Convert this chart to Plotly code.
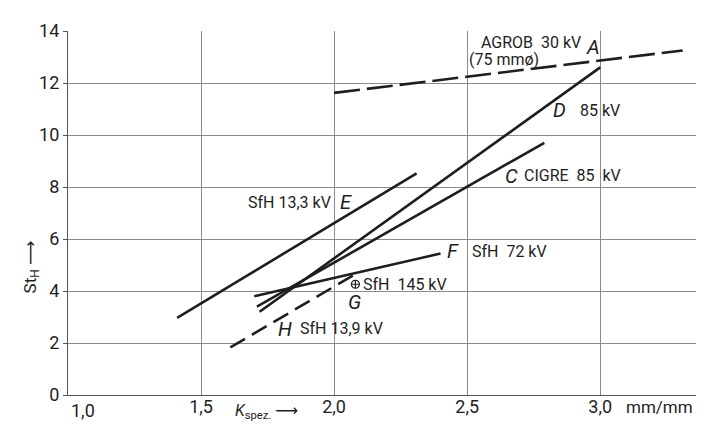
import plotly.graph_objects as go

# ---- data ----
agrob_x = [2.0, 3.31]
agrob_y = [11.62, 13.25]
d_x = [1.72, 3.0]
d_y = [3.2, 12.6]
c_x = [1.71, 2.79]
c_y = [3.4, 9.7]
e_x = [1.41, 2.31]
e_y = [2.97, 8.52]
f_x = [1.70, 2.40]
f_y = [3.8, 5.44]
h_x = [1.61, 2.08]
h_y = [1.83, 4.65]
g_x = [2.08]
g_y = [4.26]

x_tickvals = [1.0, 1.5, 2.0, 2.5, 3.0]
x_ticktext = ["1,0", "1,5", "2,0", "2,5", "3,0"]
y_tickvals = [0, 2, 4, 6, 8, 10, 12, 14]
y_ticktext = ["0", "2", "4", "6", "8", "10", "12", "14"]

FONT = "Roboto, DejaVu Sans, sans-serif"
INK = "#1e1e1e"

fig = go.Figure()

def add_line(xs, ys, dash="solid"):
    fig.add_trace(go.Scatter(x=xs, y=ys, mode="lines",
                             line=dict(color=INK, width=2.6, dash=dash),
                             showlegend=False, hoverinfo="skip"))

add_line(agrob_x, agrob_y, dash="26px,7px")
add_line(d_x, d_y)
add_line(c_x, c_y)
add_line(e_x, e_y)
add_line(f_x, f_y)
add_line(h_x, h_y, dash="17px,8px")

fig.add_trace(go.Scatter(x=g_x, y=g_y, mode="markers",
                         marker=dict(symbol="circle-cross-open", size=8,
                                     color=INK, line=dict(width=1.2, color=INK)),
                         showlegend=False, hoverinfo="skip"))

def ann(text, x, y, size=16, xanchor="left", italic=False):
    if italic:
        text = "<i>" + text + "</i>"
    fig.add_annotation(x=x, y=y, text=text, showarrow=False, xanchor=xanchor,
                       yanchor="middle", font=dict(family=FONT, size=size, color=INK))

ann("AGROB  30 kV", 2.543, 13.54)
ann("(75 mmø)", 2.498, 12.89)
ann("A", 2.972, 13.39, size=20, xanchor="center", italic=True)
ann("D", 2.848, 10.95, size=20, xanchor="center", italic=True)
ann("85 kV", 2.915, 10.95)
ann("C", 2.667, 8.44, size=20, xanchor="center", italic=True)
ann("CIGRE  85  kV", 2.705, 8.44)
ann("SfH 13,3 kV", 1.994, 7.42, xanchor="right")
ann("E", 2.043, 7.42, size=20, xanchor="center", italic=True)
ann("F", 2.445, 5.52, size=20, xanchor="center", italic=True)
ann("SfH  72 kV", 2.509, 5.52)
ann("SfH  145 kV", 2.10, 4.26)
ann("G", 2.077, 3.58, size=20, xanchor="center", italic=True)
ann("H", 1.814, 2.55, size=20, xanchor="center", italic=True)
ann("SfH 13,9 kV", 1.863, 2.55)

# first x tick label sits just right of the origin (as in the reference)
fig.add_annotation(x=x_tickvals[0], y=0, yref="y", text=x_ticktext[0], showarrow=False,
                   xanchor="left", yanchor="top", xshift=1, yshift=-3,
                   font=dict(family=FONT, size=18, color=INK))
shown_ticktext = [""] + x_ticktext[1:]

# unit label next to the last x tick
fig.add_annotation(xref="paper", yref="paper", x=(616 - 60) / 628, y=-(399 - 387) / 368,
                   text="mm/mm", showarrow=False, xanchor="left", yanchor="middle",
                   font=dict(family=FONT, size=17, color=INK))
# x axis title
fig.add_annotation(xref="paper", yref="paper", x=(225 - 60) / 628, y=-(404 - 387) / 368,
                   text="<i>K</i><sub>spez.</sub> ⟶", showarrow=False, xanchor="left",
                   yanchor="middle", font=dict(family=FONT, size=16, color=INK))
# y axis title
fig.add_annotation(xref="paper", yref="paper", x=-(60 - 23) / 628, y=(387 - 258) / 368,
                   text="St<sub>H</sub> ⟶", showarrow=False, textangle=-90,
                   xanchor="center", yanchor="middle",
                   font=dict(family=FONT, size=17, color=INK))

fig.update_layout(
    width=707, height=425,
    margin=dict(l=60, r=19, t=19, b=38),
    paper_bgcolor="white", plot_bgcolor="white",
    font=dict(family=FONT, size=17, color=INK),
    xaxis=dict(range=[1.0, 3.36], tickvals=x_tickvals, ticktext=shown_ticktext,
               showgrid=True, gridcolor="#8a8a8a", gridwidth=1,
               showline=True, linecolor="#555", linewidth=1.2,
               ticks="", zeroline=False, tickfont=dict(size=18),
               ticklabelstandoff=-5),
    yaxis=dict(range=[0, 14], tickvals=y_tickvals, ticktext=y_ticktext,
               showgrid=True, gridcolor="#8a8a8a", gridwidth=1,
               showline=True, linecolor="#555", linewidth=1.2,
               ticks="outside", ticklen=4, tickcolor="#555",
               zeroline=False, tickfont=dict(size=18)),
)

fig.write_html("out.html")
